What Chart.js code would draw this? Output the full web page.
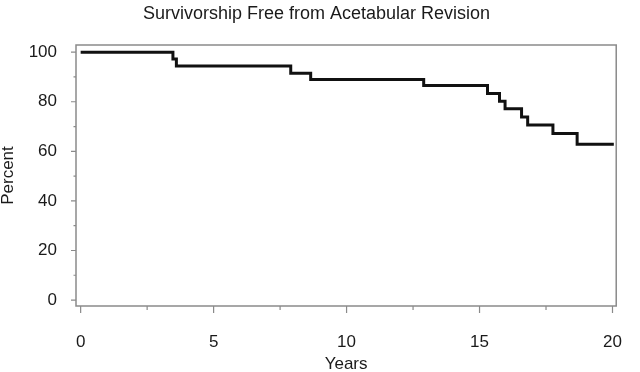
<!DOCTYPE html>
<html>
<head>
<meta charset="utf-8">
<script src="https://cdn.jsdelivr.net/npm/chart.js@4/dist/chart.umd.min.js"></script>
<style>
    html, body { margin: 0; padding: 0; background: #fff; }
    #wrap { width: 640px; height: 372px; }
</style>
</head>
<body>
<div id="wrap"><canvas id="kmChart" width="640" height="372"></canvas></div>
<script>
// Kaplan-Meier steps
const years = [0, 3.47, 3.6, 7.9, 8.65, 12.9, 15.3, 15.75, 15.96, 16.58, 16.81, 17.76, 18.67, 20.05];
const survival = [100, 97.3, 94.4, 91.5, 89.0, 86.6, 83.3, 80.2, 77.2, 73.9, 70.6, 67.2, 62.9, 62.9];

const xTicks = [0, 5, 10, 15, 20];
const xMinorTicks = [2.5, 7.5, 12.5, 17.5];
const yTicks = [0, 20, 40, 60, 80, 100];
const yMinorTicks = [10, 30, 50, 70, 90];

const textColor = '#1a1a1a';
const frameColor = '#8a8a8a';
const fontFamily = 'Liberation Sans, Arial, sans-serif';

// box round the plot and the tick marks outside it
const framePlugin = {
    id: 'frame',
    afterDraw(chart) {
        const ctx = chart.ctx;
        const area = chart.chartArea;
        const xs = chart.scales.x;
        const ys = chart.scales.y;
        ctx.save();
        ctx.strokeStyle = frameColor;
        ctx.lineWidth = 1.5;
        ctx.strokeRect(area.left, area.top, area.right - area.left, area.bottom - area.top);

        ctx.lineWidth = 1.2;
        ctx.beginPath();
        xTicks.forEach(v => {
            const px = xs.getPixelForValue(v);
            ctx.moveTo(px, area.bottom);
            ctx.lineTo(px, area.bottom + 7);
        });
        xMinorTicks.forEach(v => {
            const px = xs.getPixelForValue(v);
            ctx.moveTo(px, area.bottom);
            ctx.lineTo(px, area.bottom + 4);
        });
        yTicks.forEach(v => {
            const py = ys.getPixelForValue(v);
            ctx.moveTo(area.left, py);
            ctx.lineTo(area.left - 5, py);
        });
        yMinorTicks.forEach(v => {
            const py = ys.getPixelForValue(v);
            ctx.moveTo(area.left, py);
            ctx.lineTo(area.left - 2.5, py);
        });
        ctx.stroke();
        ctx.restore();
    }
};

const ctx = document.getElementById('kmChart').getContext('2d');
new Chart(ctx, {
    type: 'line',
    data: {
        datasets: [{
            label: 'Survivorship',
            data: years.map((t, i) => ({ x: t, y: survival[i] })),
            stepped: 'before',
            borderColor: '#111',
            borderWidth: 3,
            borderJoinStyle: 'miter',
            borderCapStyle: 'butt',
            pointRadius: 0,
            fill: false
        }]
    },
    options: {
        responsive: false,
        animation: false,
        layout: {
            padding: { left: 0, right: 7, top: 0, bottom: 0 }
        },
        plugins: {
            legend: { display: false },
            tooltip: { enabled: false },
            title: {
                display: true,
                text: 'Survivorship Free from Acetabular Revision',
                color: textColor,
                font: { family: fontFamily, size: 18, weight: 'normal', lineHeight: 1.2 },
                padding: { top: 3.5, bottom: 19.9 }
            }
        },
        scales: {
            x: {
                type: 'linear',
                min: -0.175,
                max: 20.14,
                afterBuildTicks: scale => {
                    scale.ticks = xTicks.map(v => ({ value: v }));
                },
                afterFit: scale => { scale.height = 66; },
                grid: { display: false },
                border: { display: false },
                ticks: {
                    color: textColor,
                    padding: 18,
                    font: { family: fontFamily, size: 17 }
                },
                title: {
                    display: true,
                    text: 'Years',
                    color: textColor,
                    font: { family: fontFamily, size: 17, lineHeight: 1 },
                    padding: { top: 0, bottom: -1 }
                }
            },
            y: {
                min: -2.4,
                max: 102.9,
                afterBuildTicks: scale => {
                    scale.ticks = yTicks.map(v => ({ value: v }));
                },
                afterFit: scale => { scale.width = 76; },
                grid: { display: false },
                border: { display: false },
                ticks: {
                    color: textColor,
                    padding: 11,
                    font: { family: fontFamily, size: 17 }
                },
                title: {
                    display: true,
                    text: 'Percent',
                    color: textColor,
                    font: { family: fontFamily, size: 17, lineHeight: 1 },
                    padding: { top: 0, bottom: 0 }
                }
            }
        }
    },
    plugins: [framePlugin]
});
</script>
</body>
</html>
